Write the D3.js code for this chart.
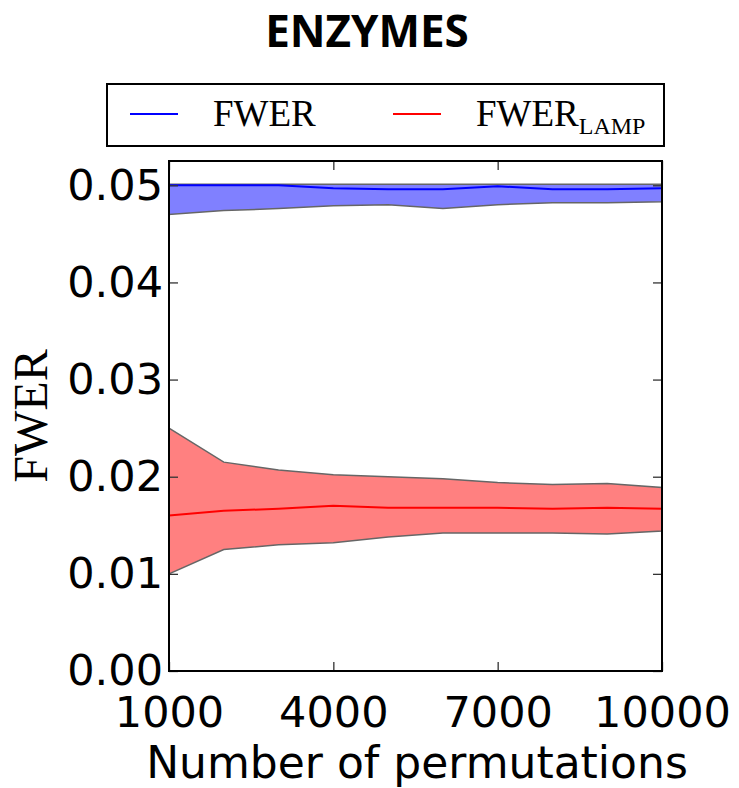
<!DOCTYPE html>
<html>
<head>
<meta charset="utf-8">
<script src="https://cdn.jsdelivr.net/npm/d3@7"></script>
<style>
body { margin: 0; background: #fff; }
.tick text { font-family: "DejaVu Sans", sans-serif; font-size: 43px; fill: #000; }
.tick line { stroke: #333; stroke-width: 1.3; }
</style>
</head>
<body>
<script>
//chart values
var permutations = [1000, 2000, 3000, 4000, 5000, 6000, 7000, 8000, 9000, 10000];
var fwerMean = [0.0500, 0.0500, 0.0500, 0.0497, 0.0496, 0.0496, 0.0499, 0.0496, 0.0496, 0.0497];
var fwerLow  = [0.0470, 0.0474, 0.0476, 0.0479, 0.0480, 0.0476, 0.0480, 0.0482, 0.0482, 0.0483];
var fwerHigh = [0.0501, 0.0501, 0.0501, 0.0501, 0.0501, 0.0501, 0.0501, 0.0501, 0.0501, 0.0501];
var lampMean = [0.0160, 0.0165, 0.0167, 0.0170, 0.0168, 0.0168, 0.0168, 0.0167, 0.0168, 0.0167];
var lampLow  = [0.0100, 0.0125, 0.0130, 0.0132, 0.0138, 0.0142, 0.0142, 0.0142, 0.0141, 0.0144];
var lampHigh = [0.0250, 0.0215, 0.0207, 0.0202, 0.0200, 0.0198, 0.0194, 0.0192, 0.0193, 0.0189];
var xTicks = [1000, 4000, 7000, 10000];
var yTicks = [0.00, 0.01, 0.02, 0.03, 0.04, 0.05];

(function(){

var width = 739, height = 788;
var plotLeft = 169, plotRight = 662, plotTop = 161, plotBottom = 671;

var svg = d3.select("body").append("svg")
    .attr("width", width)
    .attr("height", height);

var x = d3.scaleLinear().domain([1000, 10000]).range([plotLeft, plotRight]);
var y = d3.scaleLinear().domain([0, 0.0525]).range([plotBottom, plotTop]);

//bands
var area = d3.area()
    .x(function(d){ return x(d.p); })
    .y0(function(d){ return y(d.lo); })
    .y1(function(d){ return y(d.hi); });
var line = d3.line()
    .x(function(d){ return x(d.p); })
    .y(function(d){ return y(d.m); });

function rows(mean, lo, hi){
    return permutations.map(function(p, i){
        return {p: p, m: mean[i], lo: lo[i], hi: hi[i]};
    });
}

var series = [
    {data: rows(fwerMean, fwerLow, fwerHigh), fill: "#8080ff", color: "#0000ff"},
    {data: rows(lampMean, lampLow, lampHigh), fill: "#ff8080", color: "#ff0000"}
];

series.forEach(function(s){
    svg.append("path")
        .datum(s.data)
        .attr("d", area)
        .attr("fill", s.fill)
        .attr("stroke", "#666")
        .attr("stroke-width", 1.5);
});
series.forEach(function(s){
    svg.append("path")
        .datum(s.data)
        .attr("d", line)
        .attr("fill", "none")
        .attr("stroke", s.color)
        .attr("stroke-width", 2);
});

//axes with inward ticks on all four sides
svg.append("g")
    .attr("transform", "translate(0," + plotBottom + ")")
    .call(d3.axisBottom(x).tickValues(xTicks).tickFormat(d3.format("d")).tickSize(-9).tickPadding(25))
    .call(function(g){ g.select(".domain").remove(); });
svg.append("g")
    .attr("transform", "translate(0," + plotTop + ")")
    .call(d3.axisTop(x).tickValues(xTicks).tickFormat("").tickSize(-9))
    .call(function(g){ g.select(".domain").remove(); });
svg.append("g")
    .attr("transform", "translate(" + plotLeft + ",0)")
    .call(d3.axisLeft(y).tickValues(yTicks).tickFormat(d3.format(".2f")).tickSize(-9).tickPadding(6))
    .call(function(g){ g.select(".domain").remove(); });
svg.append("g")
    .attr("transform", "translate(" + plotRight + ",0)")
    .call(d3.axisRight(y).tickValues(yTicks).tickFormat("").tickSize(-9))
    .call(function(g){ g.select(".domain").remove(); });

//frame
svg.append("rect")
    .attr("x", plotLeft).attr("y", plotTop)
    .attr("width", plotRight - plotLeft).attr("height", plotBottom - plotTop)
    .attr("fill", "none")
    .attr("stroke", "#000")
    .attr("stroke-width", 2);

//title and axis labels
svg.append("text")
    .attr("x", 367).attr("y", 47)
    .attr("text-anchor", "middle")
    .style("font-family", "'Open Sans', sans-serif")
    .style("font-weight", "bold")
    .style("font-size", "44px")
    .text("ENZYMES");

svg.append("text")
    .attr("x", 417).attr("y", 778)
    .attr("text-anchor", "middle")
    .style("font-family", "'DejaVu Sans', sans-serif")
    .style("font-size", "44px")
    .text("Number of permutations");

svg.append("text")
    .attr("transform", "translate(47," + ((plotTop + plotBottom) / 2) + ") rotate(-90)")
    .attr("text-anchor", "middle")
    .style("font-family", "'Liberation Serif', serif")
    .style("font-size", "48px")
    .text("FWER");

//legend
var legend = svg.append("g");
legend.append("rect")
    .attr("x", 107).attr("y", 84)
    .attr("width", 557).attr("height", 62)
    .attr("fill", "#fff")
    .attr("stroke", "#000")
    .attr("stroke-width", 2);

var legendItems = [
    {x: 130, color: "#0000ff", label: "FWER", sub: ""},
    {x: 393, color: "#ff0000", label: "FWER", sub: "LAMP"}
];
legendItems.forEach(function(d){
    legend.append("line")
        .attr("x1", d.x).attr("x2", d.x + 48)
        .attr("y1", 114).attr("y2", 114)
        .attr("stroke", d.color)
        .attr("stroke-width", 2);
    var t = legend.append("text")
        .attr("x", d.x + 83).attr("y", 126)
        .style("font-family", "'Liberation Serif', serif")
        .style("font-size", "37px")
        .text(d.label);
    if (d.sub){
        t.append("tspan")
            .attr("dy", 8)
            .style("font-size", "24px")
            .text(d.sub);
    }
});

})();
</script>
</body>
</html>
